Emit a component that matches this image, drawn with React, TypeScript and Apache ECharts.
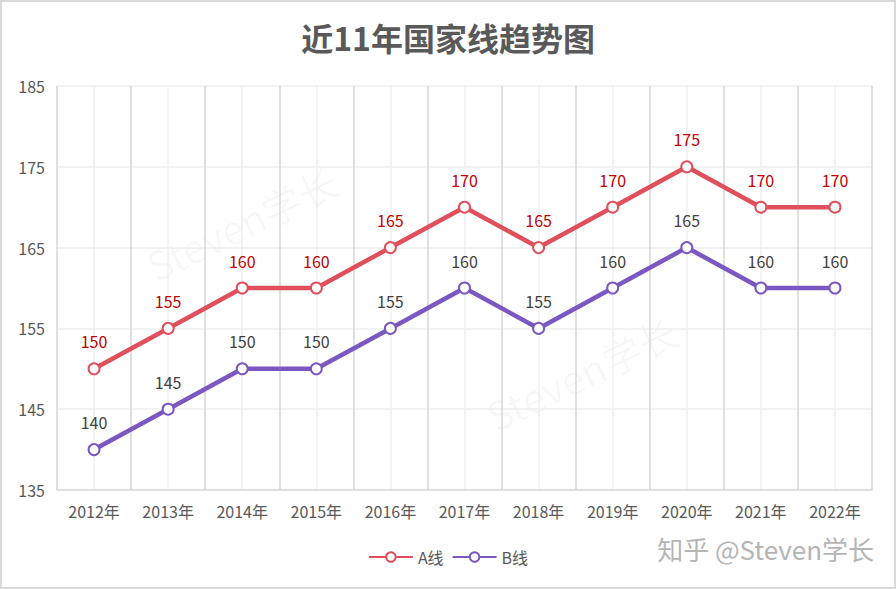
import React, { useEffect, useRef } from "react";
import * as echarts from "echarts";

const categories = ["2012年", "2013年", "2014年", "2015年", "2016年", "2017年", "2018年", "2019年", "2020年", "2021年", "2022年"];
const seriesA = [150, 155, 160, 160, 165, 170, 165, 170, 175, 170, 170];
const seriesB = [140, 145, 150, 150, 155, 160, 155, 160, 165, 160, 160];
const titleText = "近11年国家线趋势图";
const watermark = "知乎 @Steven学长";

export default function App() {
  const ref = useRef<HTMLDivElement>(null);
  useEffect(() => {
    document.body.style.margin = "0";
    const chart = echarts.init(ref.current!, null, { renderer: "svg" });
    const font = "'Noto Sans CJK SC', 'Noto Sans', sans-serif";
    chart.setOption({
      animation: false,
      backgroundColor: "#ffffff",
      textStyle: { fontFamily: font },
      title: {
        text: titleText,
        left: "center",
        top: 16,
        textStyle: { fontSize: 32, fontWeight: "bold", color: "#595959", fontFamily: font },
      },
      legend: {
        bottom: 19,
        left: "center",
        itemWidth: 44,
        itemHeight: 12,
        itemGap: 8,
        textStyle: { color: "#595959", fontSize: 16, fontFamily: font },
        data: ["A线", "B线"],
      },
      grid: { left: 57, right: 24, top: 86, bottom: 99 },
      xAxis: [
        {
          type: "category",
          data: categories,
          boundaryGap: true,
          axisLine: { show: true, lineStyle: { color: "#d9d9d9", width: 1.5 } },
          axisTick: { show: false },
          axisLabel: { color: "#595959", fontSize: 16, margin: 13, fontFamily: font },
          splitLine: { show: false },
          z: 3,
        },
        {
          type: "value",
          min: 0,
          max: 22,
          interval: 1,
          position: "bottom",
          axisLine: { show: false },
          axisTick: { show: false },
          axisLabel: { show: false },
          splitLine: { show: true, lineStyle: { color: ["#d6d6d6", "#efefef"], width: 1.5 } },
        },
      ],
      yAxis: {
        type: "value",
        min: 135,
        max: 185,
        interval: 10,
        axisLine: { show: false },
        axisTick: { show: false },
        axisLabel: { color: "#595959", fontSize: 16, margin: 12, fontFamily: font },
        splitLine: { show: true, lineStyle: { color: "#eeeeee", width: 1.5 } },
      },
      graphic: [
        {
          type: "rect",
          shape: { x: 1, y: 1, width: 894, height: 587 },
          style: { fill: "none", stroke: "#d9d9d9", lineWidth: 2 },
          silent: true,
        },
        {
          type: "text",
          x: 140,
          y: 250,
          rotation: Math.PI / 7,
          style: { text: "Steven学长", fontSize: 40, fill: "rgba(0,0,0,0.03)", fontFamily: font },
          silent: true,
          z: 0,
        },
        {
          type: "text",
          x: 480,
          y: 400,
          rotation: Math.PI / 7,
          style: { text: "Steven学长", fontSize: 40, fill: "rgba(0,0,0,0.03)", fontFamily: font },
          silent: true,
          z: 0,
        },
        {
          type: "text",
          right: 22,
          top: 535,
          style: { text: watermark, fontSize: 26, fill: "#b5b5b5", fontFamily: font },
          silent: true,
          z: 100,
        },
      ],
      series: [
        {
          name: "A线",
          type: "line",
          data: seriesA,
          xAxisIndex: 0,
          symbol: "circle",
          symbolSize: 11,
          showAllSymbol: true,
          lineStyle: { color: "#E0505C", width: 4.5 },
          itemStyle: { color: "#ffffff", borderColor: "#E0505C", borderWidth: 2 },
          label: { show: true, position: "top", distance: 13, color: "#C00000", fontSize: 16, fontFamily: font },
          z: 5,
        },
        {
          name: "B线",
          type: "line",
          data: seriesB,
          xAxisIndex: 0,
          symbol: "circle",
          symbolSize: 11,
          showAllSymbol: true,
          lineStyle: { color: "#7B57C2", width: 4.5 },
          itemStyle: { color: "#ffffff", borderColor: "#7B57C2", borderWidth: 2 },
          label: { show: true, position: "top", distance: 13, color: "#404040", fontSize: 16, fontFamily: font },
          z: 5,
        },
      ],
    });
    return () => chart.dispose();
  }, []);
  return <div ref={ref} style={{ position: "absolute", left: 0, top: 0, width: 896, height: 589 }} />;
}
